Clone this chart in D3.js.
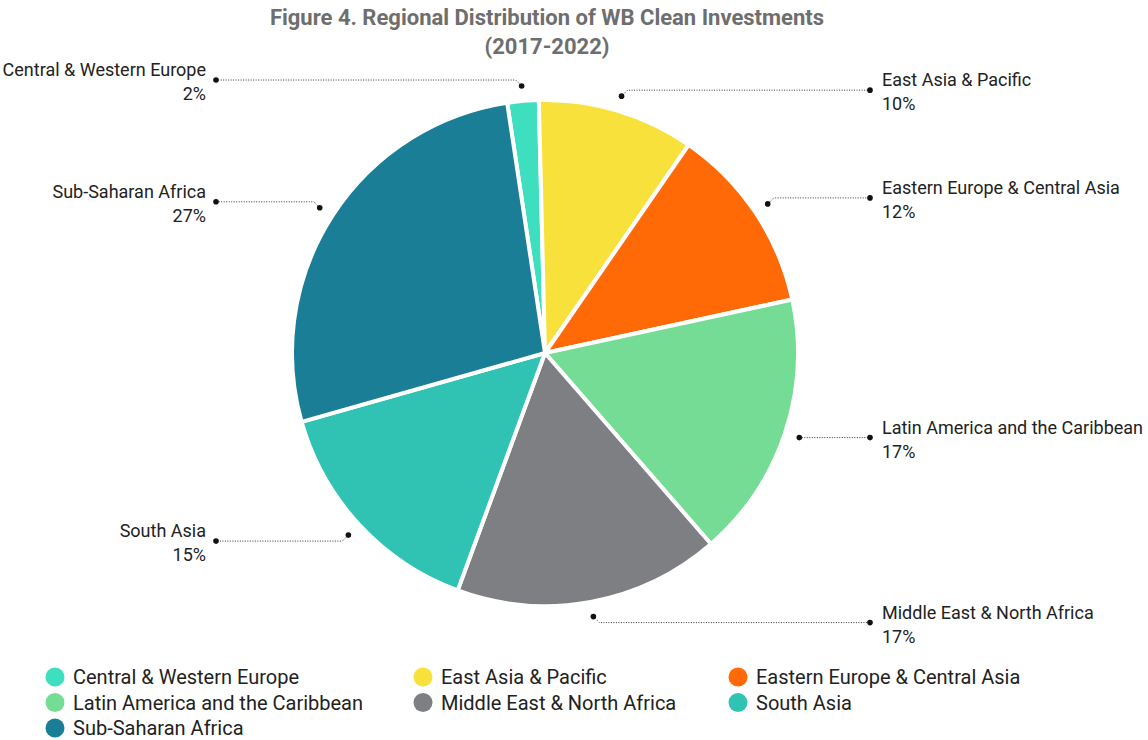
<!DOCTYPE html>
<html>
<head>
<meta charset="utf-8">
<script src="https://cdn.jsdelivr.net/npm/d3@7/dist/d3.min.js"></script>
<style>
  html, body { margin: 0; padding: 0; background: #fff; }
  svg { display: block; font-family: Roboto, "Noto Sans", sans-serif; }
</style>
</head>
<body>
<svg id="chart" width="1148" height="740"></svg>
<script>
// Regional shares of clean investments, 2017-2022 (percent)
const regions = [
  "Central & Western Europe",
  "East Asia & Pacific",
  "Eastern Europe & Central Asia",
  "Latin America and the Caribbean",
  "Middle East & North Africa",
  "South Asia",
  "Sub-Saharan Africa"
];
const shares = [2, 10, 12, 17, 17, 15, 27];
const colors = ["#3ddfbf", "#f9e13c", "#ff6a07", "#75dc96", "#7e7f83", "#30c3b4", "#1a7e97"];

const titleLines = ["Figure 4. Regional Distribution of WB Clean Investments", "(2017-2022)"];

const W = 1148, H = 740;
const cx = 545, cy = 353, R = 253;
const svg = d3.select("#chart");

// Title
svg.append("g").selectAll("text").data(titleLines).join("text")
  .attr("x", 547).attr("y", (d, i) => 25 + i * 29)
  .attr("text-anchor", "middle")
  .attr("font-weight", 700).attr("font-size", 22)
  .attr("fill", "#6e6e6e")
  .text(d => d);

const data = regions.map((name, i) => ({ name, value: shares[i], color: colors[i] }));
const total = d3.sum(shares);
// first slice sits just left of twelve o'clock; whole pie turned slightly counter-clockwise
const tilt = -1.4 * Math.PI / 180;
const start = -2 * Math.PI * shares[0] / total + tilt;

const pie = d3.pie().sort(null).value(d => d.value)
  .startAngle(start).endAngle(start + 2 * Math.PI);
const arcs = pie(data);
const arc = d3.arc().innerRadius(0).outerRadius(R);

const g = svg.append("g").attr("transform", `translate(${cx},${cy})`);
g.selectAll("path").data(arcs).join("path")
  .attr("d", arc)
  .attr("fill", d => d.data.color)
  .attr("stroke", "#fff").attr("stroke-width", 4).attr("stroke-linejoin", "round");

// Leader lines and labels
const dotArc = d3.arc().innerRadius(268).outerRadius(268);
const rightX = 870, leftX = 216, bend = 6;

const labels = svg.append("g");
arcs.forEach(a => {
  const [dx, dy] = dotArc.centroid(a);
  const mid = (a.startAngle + a.endAngle) / 2;
  const right = Math.sin(mid) > 0;
  const c = Math.cos(mid);
  const vy = Math.abs(c) > 0.5 ? (c > 0 ? -bend : bend) : 0;
  const p0 = [cx + dx, cy + dy];
  const p1 = [p0[0] + (right ? 1 : -1) * Math.abs(vy), p0[1] + vy];
  const p2 = [right ? rightX : leftX, p1[1]];
  labels.append("polyline")
    .attr("points", [p0, p1, p2].map(p => p.join(",")).join(" "))
    .attr("fill", "none").attr("stroke", "#333").attr("stroke-width", 1)
    .attr("stroke-dasharray", "1,1.5");
  labels.append("circle").attr("cx", p0[0]).attr("cy", p0[1]).attr("r", 2.8).attr("fill", "#111");
  labels.append("circle").attr("cx", p2[0]).attr("cy", p2[1]).attr("r", 2.8).attr("fill", "#111");
  const tx = right ? p2[0] + 12 : p2[0] - 10;
  const t = labels.append("text")
    .attr("x", tx).attr("y", p2[1] - 4)
    .attr("text-anchor", right ? "start" : "end")
    .attr("font-size", 18).attr("fill", "#222");
  t.append("tspan").attr("x", tx).attr("dy", 0).text(a.data.name);
  t.append("tspan").attr("x", tx).attr("dy", 24).text(a.data.value + "%");
});

// Legend
const legCols = [55, 423, 738];
const legend = svg.append("g");
data.forEach((d, i) => {
  const col = i % 3, row = Math.floor(i / 3);
  const x = legCols[col], y = 677 + row * 25.5;
  legend.append("circle").attr("cx", x).attr("cy", y).attr("r", 9.5).attr("fill", d.color);
  legend.append("text").attr("x", x + 18).attr("y", y + 7)
    .attr("font-size", 20).attr("fill", "#222").text(d.name);
});
</script>
</body>
</html>
